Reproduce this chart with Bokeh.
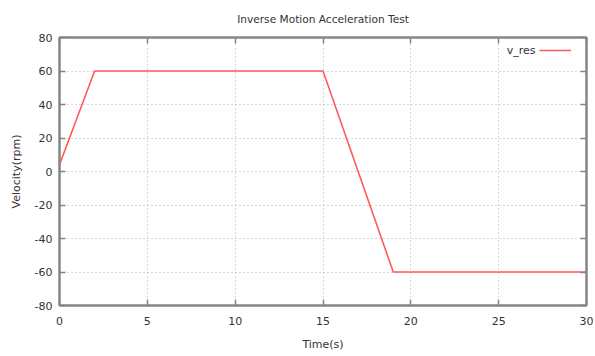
from bokeh.plotting import figure
from bokeh.models import LinearAxis, FixedTicker, Legend, LegendItem, Label, Range1d
from bokeh.embed import file_html
from bokeh.resources import INLINE

# Data
time_s = [0, 2, 15, 19, 30]
v_res = [4, 60, 60, -60, -60]
x_ticks = [0, 5, 10, 15, 20, 25, 30]
y_ticks = [-80, -60, -40, -20, 0, 20, 40, 60, 80]
title_text = "Inverse Motion Acceleration Test"

FONT = "DejaVu Sans"
TXT = "#333333"
AX = "#858585"

p = figure(width=595, height=356, output_backend="svg", toolbar_location=None,
           x_range=Range1d(0, 30), y_range=Range1d(-80, 80),
           min_border_left=59, min_border_right=9, min_border_top=37, min_border_bottom=51,
           background_fill_color="white", border_fill_color="white")

p.title.text = title_text
p.title.align = "center"
p.title.vertical_align = "top"
p.title.text_font = FONT
p.title.text_font_size = "10.6px"
p.title.text_font_style = "normal"
p.title.text_color = TXT
p.title.standoff = 22

p.outline_line_color = AX
p.outline_line_width = 2

xt = FixedTicker(ticks=x_ticks)
yt = FixedTicker(ticks=y_ticks)

for ax in (p.xaxis[0], p.yaxis[0]):
    ax.major_tick_in = 6
    ax.major_tick_out = 0
    ax.minor_tick_in = 0
    ax.minor_tick_out = 0
    ax.axis_line_color = AX
    ax.axis_line_width = 2
    ax.major_tick_line_color = AX
    ax.major_tick_line_width = 1.5
    ax.major_label_text_font = FONT
    ax.major_label_text_font_size = "11px"
    ax.major_label_text_color = TXT
    ax.axis_label_text_font = FONT
    ax.axis_label_text_font_size = "11px"
    ax.axis_label_text_font_style = "normal"
    ax.axis_label_text_color = TXT

p.xaxis[0].ticker = xt
p.yaxis[0].ticker = yt
p.xaxis[0].major_label_overrides = {t: str(t) for t in x_ticks}
p.yaxis[0].major_label_overrides = {t: str(t) for t in y_ticks}
p.xaxis[0].axis_label = "Time(s)"
p.yaxis[0].axis_label = "Velocity(rpm)"
p.xaxis[0].major_label_standoff = 11
p.xaxis[0].axis_label_standoff = 10
p.yaxis[0].major_label_standoff = 7
p.yaxis[0].axis_label_standoff = 9

# mirrored ticks on top and right
for ticker, ticks, loc in ((xt, x_ticks, "above"), (yt, y_ticks, "right")):
    m = LinearAxis(ticker=ticker)
    m.major_tick_in = 6
    m.major_tick_out = 0
    m.minor_tick_in = 0
    m.minor_tick_out = 0
    m.axis_line_color = AX
    m.axis_line_width = 2
    m.major_tick_line_color = AX
    m.major_tick_line_width = 1.5
    m.major_label_overrides = {t: "" for t in ticks}
    m.major_label_standoff = 0
    p.add_layout(m, loc)

p.xgrid.ticker = xt
p.ygrid.ticker = yt
for g in (p.xgrid[0], p.ygrid[0]):
    g.grid_line_color = "#b4b4b4"
    g.grid_line_dash = "1 3"
    g.grid_line_width = 1

r = p.line(time_s, v_res, line_color="#ff5a5a", line_width=1.6)

legend = Legend(items=[LegendItem(label=" ", renderers=[r])], location="top_right",
                padding=0, margin=3, glyph_width=32, glyph_height=20,
                label_standoff=12, label_width=0, label_text_font_size="11px",
                border_line_color=None, background_fill_alpha=0)
p.add_layout(legend)

p.add_layout(Label(x=476, y=255, x_units="screen", y_units="screen", text="v_res",
                   text_align="right", text_baseline="middle", text_font=FONT,
                   text_font_size="11px", text_color=TXT))

open("out.html", "w").write(file_html(p, INLINE))
